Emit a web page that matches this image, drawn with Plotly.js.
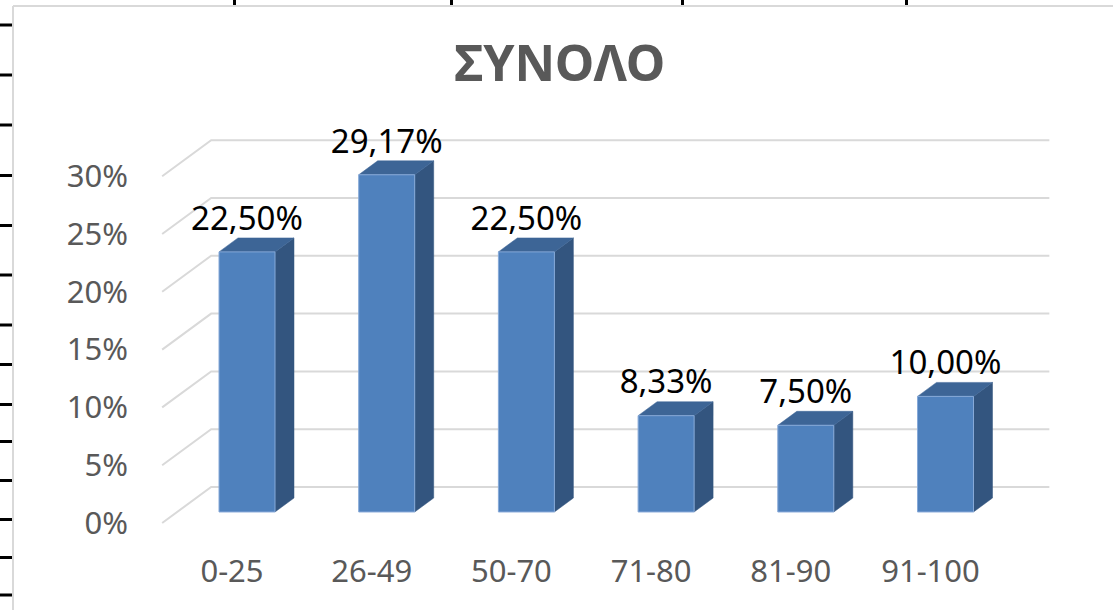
<!DOCTYPE html>
<html>
<head>
<meta charset="utf-8">
<script src="https://cdn.plot.ly/plotly-3.0.1.min.js"></script>
<style>html,body{margin:0;padding:0;background:#fff;}#chart{width:1113px;height:610px;}</style>
</head>
<body>
<div id="chart"></div>
<script>
// ---- data ----
const categories = ["0-25", "26-49", "50-70", "71-80", "81-90", "91-100"];
const shares = [0.2250, 0.2917, 0.2250, 0.0833, 0.0750, 0.1000];
const yTickVals = [0, 0.05, 0.10, 0.15, 0.20, 0.25, 0.30];
const yTickText = ["0%", "5%", "10%", "15%", "20%", "25%", "30%"];
const chartTitle = "ΣΥΝΟΛΟ";

// ---- layout geometry (pixels) ----
const W = 1113, H = 610;
const L = 135, R = 1075, T = 95, B = 548;
const PX0 = 232, SX = 139.7;   // x pixel of category 0 on the front plane, px per category
const PY0 = 523, SY = 1156;    // y pixel of 0 on the front plane, px per unit (100%)
const SLOPE = 0.735;           // oblique depth: dy/dx
const dX = d => d / SX;
const dY = d => d * SLOPE / SY;
const BAR_FRONT = 15, BAR_DEPTH = 19, WALL = 49, HALF = 28 / SX;

const xRange = [(L - PX0) / SX, (R - PX0) / SX];
const yRange = [(PY0 - B) / SY, (PY0 - T) / SY];

const FONT = 'Noto Sans, sans-serif';
const traces = [];

// gridlines: left side wall diagonals + back wall horizontals
const gx = [], gy = [];
const xLeft = -0.5, xRight = categories.length - 0.5;
yTickVals.forEach(v => {
  gx.push(xLeft, xLeft + dX(WALL), xRight + dX(WALL), null);
  gy.push(v, v + dY(WALL), v + dY(WALL), null);
});
traces.push({type: 'scatter', mode: 'lines', x: gx, y: gy, hoverinfo: 'skip',
  line: {color: '#d9d9d9', width: 2}, showlegend: false, cliponaxis: false});

const xs = categories.map((c, i) => i + dX(BAR_FRONT));
const base = categories.map(() => dY(BAR_FRONT));
const ddx = dX(BAR_DEPTH), ddy = dY(BAR_DEPTH);

shares.forEach((v, i) => {
  const xl = xs[i] - HALF, xr = xs[i] + HALF, b = base[i];
  // side face
  traces.push({type: 'scatter', mode: 'lines', fill: 'toself', fillcolor: '#33557f',
    x: [xr, xr, xr + ddx, xr + ddx, xr], y: [b, b + v, b + v + ddy, b + ddy, b],
    line: {width: 0.5, color: '#33557f'}, hoverinfo: 'skip', showlegend: false});
  // top face
  traces.push({type: 'scatter', mode: 'lines', fill: 'toself', fillcolor: '#3d6596',
    x: [xl, xr, xr + ddx, xl + ddx, xl], y: [b + v, b + v, b + v + ddy, b + v + ddy, b + v],
    line: {width: 0.5, color: '#3d6596'}, hoverinfo: 'skip', showlegend: false});
  // front face
  traces.push({type: 'scatter', mode: 'lines', fill: 'toself', fillcolor: '#4f81bd',
    x: [xl, xr, xr, xl, xl], y: [b, b, b + v, b + v, b],
    line: {width: 1, color: '#86a9d8'}, hoverinfo: 'skip', showlegend: false});
});

// data labels
const fmt = v => (v * 100).toFixed(2).replace('.', ',') + '%';
traces.push({type: 'scatter', mode: 'text', x: xs,
  y: shares.map((v, i) => base[i] + v + ddy),
  text: shares.map(fmt), textposition: 'top center',
  textfont: {family: FONT, size: 33, color: '#000000'},
  hoverinfo: 'skip', showlegend: false, cliponaxis: false});

// sheet-frame decorations (pixel -> paper)
const px = p => (p - L) / (R - L);
const py = p => (B - p) / (B - T);
const shapes = [];
shapes.push({type: 'line', xref: 'paper', yref: 'paper', x0: px(13), x1: px(13), y0: py(6), y1: py(612), line: {color: '#d9d9d9', width: 2}});
shapes.push({type: 'line', xref: 'paper', yref: 'paper', x0: px(13), x1: px(1115), y0: py(6), y1: py(6), line: {color: '#d9d9d9', width: 2}});
[25, 75, 125, 175.5, 225.5, 275, 325, 364.5, 404.5, 441.5, 480.5, 519.5, 557.5, 595].forEach(y => {
  shapes.push({type: 'line', xref: 'paper', yref: 'paper', x0: px(0), x1: px(12), y0: py(y), y1: py(y), line: {color: '#000', width: 3}});
});
[234.5, 451.5, 682.5, 906.5].forEach(x => {
  shapes.push({type: 'line', xref: 'paper', yref: 'paper', x0: px(x), x1: px(x), y0: py(0), y1: py(5), line: {color: '#000', width: 3}});
});

const layout = {
  width: W, height: H, autosize: false,
  margin: {l: L, r: W - R, t: T, b: H - B, pad: 0},
  paper_bgcolor: '#ffffff', plot_bgcolor: 'rgba(0,0,0,0)',
  title: {text: '<b>' + chartTitle + '</b>', x: 0.503, xref: 'container', y: 1 - 63 / H, yref: 'container',
    xanchor: 'center', yanchor: 'middle',
    font: {family: FONT, size: 50, color: '#595959'}},
  xaxis: {range: xRange, tickvals: categories.map((c, i) => i), ticktext: categories,
    showgrid: false, zeroline: false, showline: false, ticks: '', ticklabelstandoff: 2,
    tickfont: {family: FONT, size: 31, color: '#595959'}, fixedrange: true},
  yaxis: {range: yRange, tickvals: yTickVals, ticktext: yTickText,
    showgrid: false, zeroline: false, showline: false, ticks: '', ticklabelstandoff: 6,
    tickfont: {family: FONT, size: 31, color: '#595959'}, fixedrange: true},
  shapes: shapes,
  showlegend: false
};

Plotly.newPlot('chart', traces, layout, {displayModeBar: false, staticPlot: true});
</script>
</body>
</html>
